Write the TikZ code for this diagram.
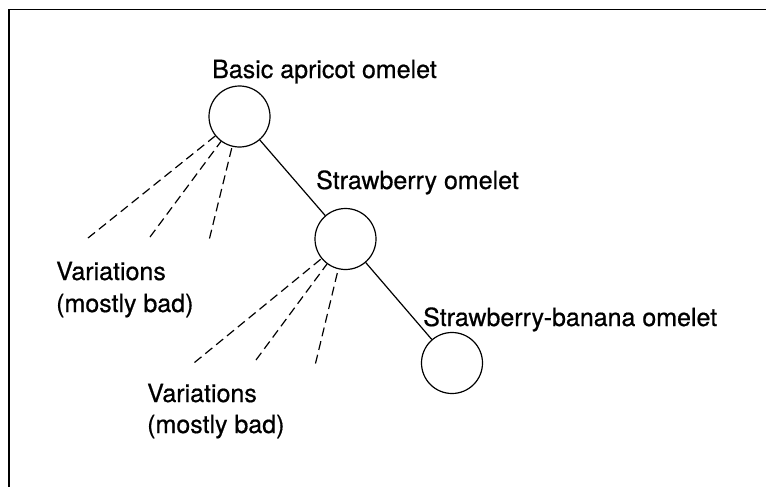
\documentclass[tikz,border=0pt]{standalone}
\usepackage{fontspec}
\setmainfont{TeX Gyre Heros}[FakeBold=0.6]
\begin{document}
\begin{tikzpicture}[x=1pt,y=-1pt,
  dish/.style={circle, draw, line width=1.2pt, minimum size=61pt, inner sep=0pt},
  lbl/.style={anchor=base west, inner sep=0pt, font=\fontsize{25}{30}\selectfont},
  link/.style={line width=1.2pt},
  variant/.style={line width=1.2pt, dash pattern=on 9pt off 5pt}]
\useasboundingbox (0,0) rectangle (766,487);
\clip (0,0) rectangle (766,487);
% open frame along the top and left edges
\coordinate (fb) at (9,500);
\coordinate (fc) at (9,9.5);
\coordinate (fr) at (780,9.5);
\draw[line width=1.8pt] (fb) -- (fc) -- (fr);

% the three omelets
\node[dish] (basic) at (239.5,116.5) {};
\node[dish] (straw) at (345.5,239) {};
\node[dish] (banana) at (452,363) {};

\node[lbl] (tbasic) at (212,78) {Basic apricot omelet};
\node[lbl] (tstraw) at (316,189) {Strawberry omelet};
\node[lbl] (tbanana) at (423,326) {Strawberry-banana omelet};

\draw[link] (basic) -- (straw);
\draw[link] (straw) -- (banana);

% variations of the basic omelet
\coordinate (va1) at (88,238);
\coordinate (va2) at (150,237);
\coordinate (va3) at (209.5,238.5);
\foreach \v in {va1,va2,va3} \draw[variant] (\v) -- (basic);
\node[lbl] (var1) at (56,280) {Variations};
\node[lbl] (bad1) at (56,312) {(mostly bad)};

% variations of the strawberry omelet
\coordinate (vb1) at (194.5,362.5);
\coordinate (vb2) at (256,360);
\coordinate (vb3) at (315.5,363.5);
\foreach \v in {vb1,vb2,vb3} \draw[variant] (\v) -- (straw);
\node[lbl] (var2) at (147,402) {Variations};
\node[lbl] (bad2) at (147,433) {(mostly bad)};
\end{tikzpicture}
\end{document}
